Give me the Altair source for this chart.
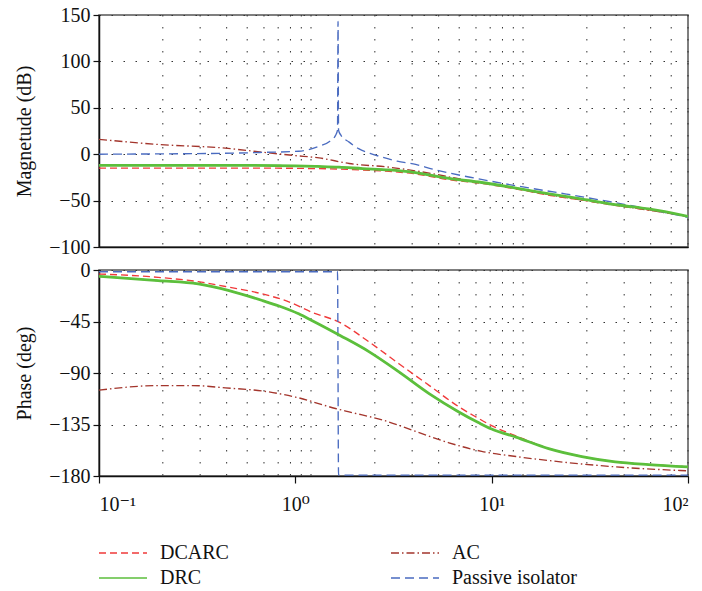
import altair as alt
import pandas as pd

FONT = "Liberation Serif, Times New Roman, DejaVu Serif, serif"

SERIES = ["DCARC", "DRC", "AC", "Passive isolator"]
COLORS = ["#f03a3a", "#5cbf3c", "#a3352c", "#4a6bc0"]
DASHES = [[7, 4], [1, 0], [8, 3, 1.5, 3], [9, 5]]
DRC_COLOR = "#5cbf3c"

# ---- Magnitude (dB) ----
mag_f_dcarc = [0.1, 0.3, 0.6, 1.0, 1.3, 1.67, 2.2, 3.0, 4.0, 6.06, 8.9, 13.3, 20, 29, 45, 63, 100]
mag_dcarc = [-15, -15, -15, -15.2, -15.6, -16, -17, -18.5, -21, -27.5, -31.5, -37.5, -44.5, -49.5, -56, -60, -67]

mag_f_drc = [0.1, 0.3, 0.6, 1.0, 1.3, 1.67, 2.2, 3.0, 4.0, 6.06, 8.9, 13.3, 20, 29, 45, 63, 100]
mag_drc = [-12, -12, -12, -12.5, -13.2, -14, -15.5, -17, -19.5, -26, -30.5, -36.5, -43, -48.5, -55, -59, -67]

mag_f_ac = [0.1, 0.2, 0.44, 0.69, 1.0, 1.32, 1.88, 3.0, 5.0, 7.0, 10, 20, 45, 100]
mag_ac = [16, 10.5, 6.5, 2, -1.5, -4, -10, -14, -21, -27, -32, -44, -55.5, -67]

mag_f_pass = [0.1, 0.2, 0.3, 0.5, 0.7, 1.04, 1.32, 1.5, 1.6, 1.64, 1.65, 1.66, 1.7, 1.88,
              2.1, 2.4, 2.7, 3.3, 4.1, 5.0, 6.0, 8.3, 13.3, 24, 50, 100]
mag_pass = [0, 0.3, 0.6, 1.2, 2, 3.2, 8.6, 14, 20, 26, 143, 26, 21, 13,
            6, 1, -2.5, -7.5, -11, -16, -20, -26, -34, -43, -55, -68]

# ---- Phase (deg) ----
ph_f_dcarc = [0.1, 0.2, 0.32, 0.46, 0.68, 0.9, 1.22, 1.67, 2.38, 3.37, 4.8, 6.8, 8.3, 10,
              13.3, 19.5, 28.8, 42.6, 63, 100]
ph_dcarc = [-3.5, -6.4, -10.2, -15, -20.9, -27, -37, -45.6, -63, -81.9, -100.8, -119.5, -128.3, -136,
            -145, -156, -163, -167.6, -170, -172]

ph_f_drc = [0.1, 0.2, 0.32, 0.46, 0.68, 0.826, 1.04, 1.22, 1.69, 2.38, 3.37, 4.8, 6.8, 8.6, 10,
            13.3, 19.5, 28.8, 42.6, 63, 100]
ph_drc = [-5.5, -9.3, -12.2, -18, -26.7, -31.5, -38.3, -44.3, -57.2, -71.5, -89, -108, -124, -133.5, -139,
          -146, -156, -163, -167.6, -170, -172]

ph_f_ac = [0.1, 0.2, 0.3, 0.44, 0.7, 1.0, 1.6, 1.88, 2.77, 4.1, 6.06, 8.9, 13.3, 19.5, 28.8, 42.6, 100]
ph_ac = [-105, -101, -101, -103, -106, -111, -121, -124, -131, -141, -151, -158.5, -163, -166.5, -169.5, -172, -175.5]

ph_f_pass = [0.1, 1.64, 1.66, 100]
ph_pass = [-1.5, -1.5, -179.3, -179.3]

# grid frequencies (dotted vertical grid of the original figure)
grid_f = [0.2, 0.3, 0.4, 0.5, 0.6, 0.7, 0.8, 0.9, 1, 2, 3, 4, 5, 6, 7, 8, 9, 10, 20, 30, 40, 50, 60]
grid_domain = [0.1, 60]

x_ticks = [0.1, 1, 10, 100]
mag_ticks = [-100, -50, 0, 50, 100, 150]
ph_ticks = [-180, -135, -90, -45, 0]


def frame(pairs):
    rows = []
    for name, fs, vs in pairs:
        for f, v in zip(fs, vs):
            rows.append({"series": name, "f": f, "v": v})
    return pd.DataFrame(rows)


mag_df = frame([("DRC", mag_f_drc, mag_drc), ("AC", mag_f_ac, mag_ac),
                ("DCARC", mag_f_dcarc, mag_dcarc), ("Passive isolator", mag_f_pass, mag_pass)])
ph_df = frame([("DRC", ph_f_drc, ph_drc), ("AC", ph_f_ac, ph_ac),
               ("DCARC", ph_f_dcarc, ph_dcarc), ("Passive isolator", ph_f_pass, ph_pass)])
grid_df = pd.DataFrame({"g": grid_f})

W = 589


def panel(df, title, domain, ticks, height, bottom):
    grid = alt.Chart(grid_df).mark_rule(color="#333", strokeDash=[1.5, 10.5], strokeWidth=1).encode(
        x=alt.X("g:Q", scale=alt.Scale(type="log", domain=grid_domain, nice=False), axis=None)
    )
    if bottom:
        xaxis = alt.Axis(values=x_ticks, grid=False, title=None, tickSize=7, labelPadding=11,
                         labelExpr="datum.value < 0.5 ? '10⁻¹' : datum.value < 5 ? '10⁰' : datum.value < 50 ? '10¹' : '10²'")
    else:
        xaxis = alt.Axis(values=x_ticks, grid=False, title=None, labels=False, ticks=False)
    xenc = alt.X("f:Q", scale=alt.Scale(type="log", domain=[0.1, 100], nice=False), axis=xaxis)
    yenc = alt.Y("v:Q", scale=alt.Scale(domain=domain, nice=False, zero=False),
                 axis=alt.Axis(values=ticks, title=title, grid=True, gridDash=[1.5, 10.5],
                               gridColor="#333", tickSize=6, labelPadding=3, titlePadding=14))
    lines = alt.Chart(df).mark_line(clip=True, interpolate="monotone", strokeWidth=1.35).encode(
        x=xenc, y=yenc,
        color=alt.Color("series:N", scale=alt.Scale(domain=SERIES, range=COLORS), legend=alt.Legend(title=None)),
        strokeDash=alt.StrokeDash("series:N", scale=alt.Scale(domain=SERIES, range=DASHES), legend=alt.Legend(title=None)),
    )
    # the DRC curve is drawn with a heavier stroke in the original
    drc_thick = alt.Chart(df).transform_filter(alt.datum.series == "DRC").mark_line(
        clip=True, interpolate="monotone", strokeWidth=2.8, color=DRC_COLOR
    ).encode(x=xenc, y=yenc)
    data_layer = alt.layer(lines, drc_thick)
    return alt.layer(grid, data_layer).resolve_scale(x="independent").properties(width=W, height=height)


top = panel(mag_df, "Magnetude (dB)", [-100, 150], mag_ticks, 232, False)
bot = panel(ph_df, "Phase (deg)", [-180, 0], ph_ticks, 206, True)

chart = alt.vconcat(top, bot, spacing=1).properties(
    padding={"left": 13, "top": 4, "right": 5, "bottom": 5}
).configure_view(
    stroke="#555", strokeWidth=1.5
).configure_axis(
    labelFont=FONT, titleFont=FONT, labelFontSize=20, titleFontSize=20,
    labelColor="#111", titleColor="#111", titleFontWeight="normal",
    domainColor="#111", domainWidth=1.5, tickColor="#111", tickWidth=1.2
).configure_legend(
    orient="none", legendX=-1, legendY=528, columns=2, symbolType="stroke",
    symbolSize=2304, symbolStrokeWidth=1.5, labelFont=FONT, labelFontSize=20,
    labelColor="#111", clipHeight=20, rowPadding=5, columnPadding=161, labelOffset=12
)

chart.save("out.html", embed_options={"renderer": "svg", "actions": False})
